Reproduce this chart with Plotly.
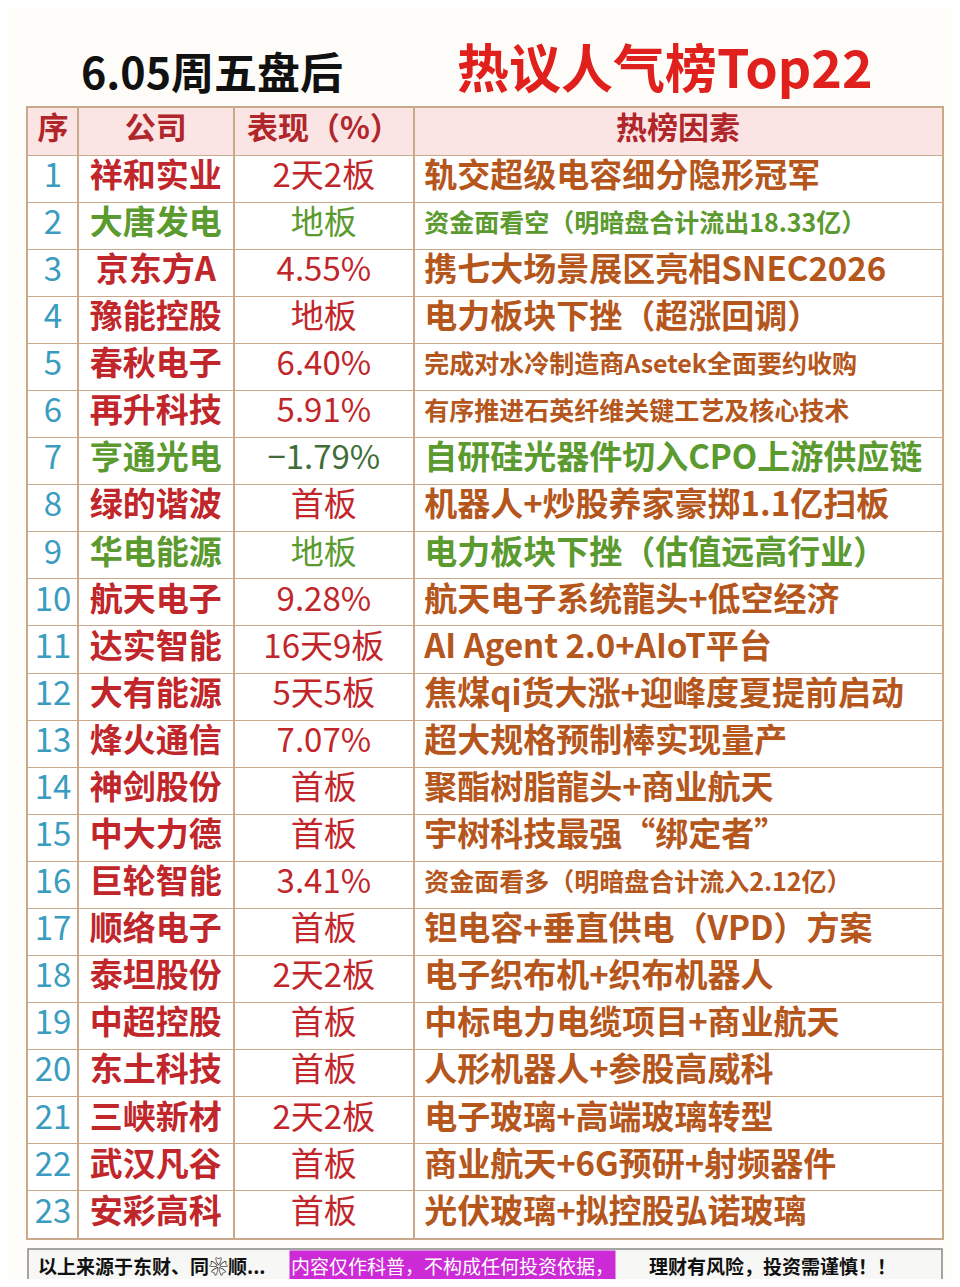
import plotly.graph_objects as go

# 数据
idx = [str(i) for i in range(1, 24)]
companies = ["祥和实业", "大唐发电", "京东方A", "豫能控股", "春秋电子", "再升科技", "亨通光电",
             "绿的谐波", "华电能源", "航天电子", "达实智能", "大有能源", "烽火通信", "神剑股份",
             "中大力德", "巨轮智能", "顺络电子", "泰坦股份", "中超控股", "东土科技", "三峡新材",
             "武汉凡谷", "安彩高科"]
perf = ["2天2板", "地板", "4.55%", "地板", "6.40%", "5.91%", "−1.79%", "首板", "地板", "9.28%",
        "16天9板", "5天5板", "7.07%", "首板", "首板", "3.41%", "首板", "2天2板", "首板", "首板",
        "2天2板", "首板", "首板"]
reasons = ["轨交超级电容细分隐形冠军", "资金面看空（明暗盘合计流出18.33亿）", "携七大场景展区亮相SNEC2026",
           "电力板块下挫（超涨回调）", "完成对水冷制造商Asetek全面要约收购", "有序推进石英纤维关键工艺及核心技术",
           "自研硅光器件切入CPO上游供应链", "机器人+炒股养家豪掷1.1亿扫板", "电力板块下挫（估值远高行业）",
           "航天电子系统龍头+低空经济", "AI Agent 2.0+AIoT平台", "焦煤qi货大涨+迎峰度夏提前启动",
           "超大规格预制棒实现量产", "聚酯树脂龍头+商业航天", "宇树科技最强“绑定者”",
           "资金面看多（明暗盘合计流入2.12亿）", "钽电容+垂直供电（VPD）方案", "电子织布机+织布机器人",
           "中标电力电缆项目+商业航天", "人形机器人+参股高威科", "电子玻璃+高端玻璃转型",
           "商业航天+6G预研+射频器件", "光伏玻璃+拟控股弘诺玻璃"]
headers = ["序", "公司", "表现（%）", "热榜因素"]
col_bounds = [0, 50, 206, 387, 916]   # 列边界（表格坐标）
green_rows = [1, 6, 8]
small_rows = [1, 4, 5, 15]

RED = "#c0262a"
GREEN = "#5b9a2f"
BROWN = "#b5561c"
DARKGREEN = "#3f6d3a"
TEAL = "#3a9cc0"
LINE = "#c9a98c"
FONT = "Noto Sans CJK SC"

rows = list(range(1, 24))
comp_col = [GREEN if i in green_rows else RED for i in range(23)]
perf_col = [DARKGREEN if i == 6 else (GREEN if i in green_rows else RED) for i in range(23)]
reason_col = [GREEN if i in green_rows else BROWN for i in range(23)]
reason_size = [25 if i in small_rows else 33 for i in range(23)]
centers = [(col_bounds[k] + col_bounds[k + 1]) / 2 for k in range(4)]

W, H = 944, 1271   # 页面body有8px边距

fig = go.Figure()
fig.add_trace(go.Scatter(x=centers, y=[0] * 4, mode="text", text=["<b>%s</b>" % h for h in headers],
                         textfont=dict(family=FONT, size=31, color="#b0262a")))
fig.add_trace(go.Scatter(x=[centers[0]] * 23, y=rows, mode="text", text=idx,
                         textfont=dict(family=FONT, size=33, color=TEAL)))
fig.add_trace(go.Scatter(x=[centers[1]] * 23, y=rows, mode="text",
                         text=["<b>%s</b>" % c for c in companies],
                         textfont=dict(family=FONT, size=33, color=comp_col)))
fig.add_trace(go.Scatter(x=[centers[2]] * 23, y=rows, mode="text", text=perf,
                         textfont=dict(family=FONT, size=33, color=perf_col)))
fig.add_trace(go.Scatter(x=[col_bounds[3] + 10] * 23, y=rows, mode="text", textposition="middle right",
                         text=["<b>%s</b>" % r for r in reasons],
                         textfont=dict(family=FONT, size=reason_size, color=reason_col)))

# 表头底色
fig.add_shape(type="rect", x0=0, x1=916, y0=-0.5, y1=0.5, fillcolor="#fbe4e4",
              line=dict(width=0), layer="below")

fig.update_xaxes(range=[0, 916], tickvals=col_bounds[1:4], showgrid=True, gridcolor=LINE,
                 gridwidth=1.5, showticklabels=False, zeroline=False, showline=True,
                 mirror=True, linecolor=LINE, linewidth=1.5, ticks="")
fig.update_yaxes(range=[23.5, -0.5], tickvals=[r + 0.5 for r in range(23)], showgrid=True,
                 gridcolor=LINE, gridwidth=1.2, showticklabels=False, zeroline=False,
                 showline=True, mirror=True, linecolor=LINE, linewidth=1.5, ticks="")


# paper坐标相对绘图区（页面像素 x 28..944, y 108..1238）
def px(x):
    return (x - 28) / 916


def py(y):
    return (1238 - y) / 1130


fig.add_annotation(x=px(212), y=py(70), xref="paper", yref="paper", showarrow=False,
                   xanchor="center", yanchor="middle", text="<b>6.05周五盘后</b>",
                   font=dict(family=FONT, size=43, color="#111"))
fig.add_annotation(x=px(666), y=py(66), xref="paper", yref="paper", showarrow=False,
                   xanchor="center", yanchor="middle", text="<b>热议人气榜Top22</b>",
                   font=dict(family=FONT, size=52, color="#e0201c"))

# 底部免责声明
fig.add_shape(type="rect", xref="paper", yref="paper", x0=px(28), x1=px(944),
              y0=py(1290), y1=py(1249), line=dict(color="#888", width=1.5), fillcolor="#f7f7f5")
fy = py(1265)
fig.add_annotation(x=px(36), y=fy, xref="paper", yref="paper", xanchor="left", yanchor="middle",
                   showarrow=False, text="<b>以上来源于东财、同❀顺...</b>",
                   font=dict(family=FONT, size=19, color="#111"))
fig.add_annotation(x=px(290), y=fy, xref="paper", yref="paper", xanchor="left", yanchor="middle",
                   showarrow=False, text="内容仅作科普，不构成任何投资依据，",
                   bgcolor="#cc2ad6", borderpad=1, font=dict(family=FONT, size=19, color="white"))
fig.add_annotation(x=px(648), y=fy, xref="paper", yref="paper", xanchor="left", yanchor="middle",
                   showarrow=False, text="<b>理财有风险，投资需谨慎！！</b>",
                   font=dict(family=FONT, size=19, color="#111"))

fig.update_layout(width=W, height=H, margin=dict(l=20, r=8, t=100, b=41),
                  paper_bgcolor="#fdfcf8", plot_bgcolor="white", showlegend=False)
fig.write_html("out.html")
